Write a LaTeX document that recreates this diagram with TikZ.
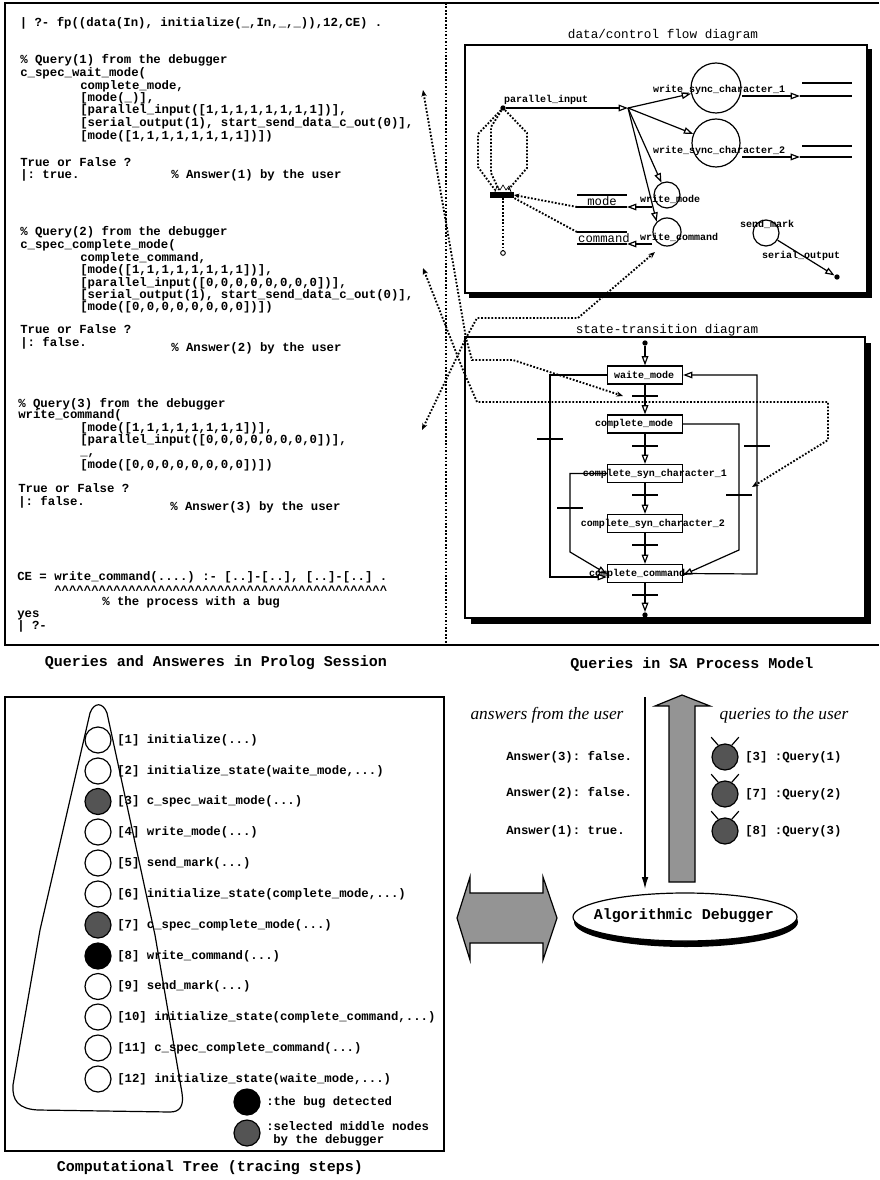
\documentclass[tikz,border=0pt]{standalone}
\usepackage{fontspec}
\setmainfont{Liberation Serif}
\setmonofont{Liberation Mono}
\usetikzlibrary{arrows.meta,shapes.geometric}
\newcommand\fcode{\ttfamily\bfseries\fontsize{9.25pt}{11pt}\selectfont}
\newcommand\fsmall{\ttfamily\bfseries\fontsize{7.5pt}{9pt}\selectfont}
\newcommand\fstore{\ttfamily\fontsize{9.2pt}{11pt}\selectfont}
\newcommand\ftitle{\ttfamily\fontsize{9.5pt}{11pt}\selectfont}
\newcommand\fcapt{\ttfamily\bfseries\fontsize{11.25pt}{13pt}\selectfont}
\newcommand\fital{\rmfamily\itshape\fontsize{13pt}{15pt}\selectfont}
\newcommand\cf{\textasciicircum\textasciicircum\textasciicircum\textasciicircum\textasciicircum}
\newcommand\cln[4]{\node[code] (#1) at (#2,#3) {#4};}
\definecolor{stip}{gray}{0.33}
\definecolor{arrg}{gray}{0.58}
\begin{document}
\begin{tikzpicture}[x=0.75pt,y=-0.75pt,
  code/.style={font=\fcode,inner sep=0pt,anchor=base west,yshift=-2.6pt},
  lab/.style={font=\fsmall,inner sep=0pt},
  storelab/.style={font=\fstore,inner sep=0pt},
  ttl/.style={font=\ftitle,inner sep=0pt},
  capt/.style={font=\fcapt,inner sep=0pt},
  frame/.style={line width=1.1pt},
  ln/.style={line width=0.9pt},
  flow/.style={line width=0.9pt,-{Triangle[open,length=7pt,width=5pt]}},
  dots/.style={line width=1.4pt,dash pattern=on 1.3pt off 1.3pt},
  dotsarr/.style={dots,{Stealth[length=5pt,width=4pt]}-{Stealth[length=5pt,width=4pt]}},
  dotsend/.style={dots,-{Stealth[length=4pt,width=3.5pt]}},
  proc/.style={circle,draw,line width=0.9pt,inner sep=0pt,fill=white},
  dot/.style={circle,fill,inner sep=0pt,minimum size=4pt},
  sbox/.style={draw,line width=0.9pt,fill=white,minimum width=56.25pt,minimum height=13.5pt,inner sep=0pt},
  tc/.style={circle,draw,line width=0.9pt,minimum size=19.5pt,inner sep=0pt,fill=white},
  barst/.style={line width=0.9pt},
]
\useasboundingbox (0,0) rectangle (879,1180);
\fill[white] (0,0) rectangle (879,1180);

% ---------------- top frame ----------------
\draw[frame] (879,3) -- (5,3) -- (5,645) -- (879,645);
\draw[dots] (446,3) -- (446,645);

% ---------------- Prolog session text ----------------
\cln{l0}{19.5}{23}{| ?- fp((data(In), initialize(\_,In,\_,\_)),12,CE) .}
\cln{q1a}{20}{60}{\% Query(1) from the debugger}
\cln{q1b}{20}{73}{c\_spec\_wait\_mode(}
\cln{q1c}{80}{86}{complete\_mode,}
\cln{q1d}{80}{98}{[mode(\_)],}
\cln{q1e}{80}{110}{[parallel\_input([1,1,1,1,1,1,1,1])],}
\cln{q1f}{80}{123}{[serial\_output(1), start\_send\_data\_c\_out(0)],}
\cln{q1g}{80}{136}{[mode([1,1,1,1,1,1,1,1])])}
\cln{q1h}{20}{163}{True or False ?}
\cln{q1i}{20}{175}{|: true.}
\cln{q1j}{171}{175}{\% Answer(1) by the user}

\cln{q2a}{20}{232}{\% Query(2) from the debugger}
\cln{q2b}{20}{245}{c\_spec\_complete\_mode(}
\cln{q2c}{80}{258}{complete\_command,}
\cln{q2d}{80}{270}{[mode([1,1,1,1,1,1,1,1])],}
\cln{q2e}{80}{283}{[parallel\_input([0,0,0,0,0,0,0,0])],}
\cln{q2f}{80}{295}{[serial\_output(1), start\_send\_data\_c\_out(0)],}
\cln{q2g}{80}{307}{[mode([0,0,0,0,0,0,0,0])])}
\cln{q2h}{20}{330}{True or False ?}
\cln{q2i}{20}{343}{|: false.}
\cln{q2j}{171}{348}{\% Answer(2) by the user}

\cln{q3a}{18}{404}{\% Query(3) from the debugger}
\cln{q3b}{18}{415}{write\_command(}
\cln{q3c}{80}{428}{[mode([1,1,1,1,1,1,1,1])],}
\cln{q3d}{80}{440}{[parallel\_input([0,0,0,0,0,0,0,0])],}
\cln{q3e}{80}{452}{\_,}
\cln{q3f}{80}{465}{[mode([0,0,0,0,0,0,0,0])])}
\cln{q3g}{18}{489}{True or False ?}
\cln{q3h}{18}{502}{|: false.}
\cln{q3i}{170}{507}{\% Answer(3) by the user}

\cln{ce1}{17}{577}{CE = write\_command(....) :- [..]-[..], [..]-[..] .}
\cln{ce2}{54}{591}{\cf\cf\cf\cf\cf\cf\cf\cf\cf}
\cln{ce3}{102}{602}{\% the process with a bug}
\cln{ce4}{17}{614}{yes}
\cln{ce5}{17}{626}{| ?-}

\node[capt] (cap1) at (216,663) {Queries and Answeres in Prolog Session};
\node[capt] (cap2) at (692,665) {Queries in SA Process Model};

% ---------------- data/control flow diagram ----------------
\fill (469,49) rectangle (872,298);
\draw[frame,fill=white] (465,45) rectangle (867,293);
\node[ttl] (dfdt) at (663,35) {data/control flow diagram};

\node[dot] (pin) at (503,108) {};
\node[lab] (pinl) at (546,100) {parallel\_input};
\coordinate (J) at (628,108);
\node[proc,minimum size=37.5pt] (c1) at (716,88) {};
\node[proc,minimum size=36pt] (c2) at (716,143) {};
\node[proc,minimum size=19.5pt] (wm) at (667,195) {};
\node[proc,minimum size=21pt] (wc) at (667,232) {};
\node[proc,minimum size=19.5pt] (smk) at (766,233) {};
\node[dot] (sout) at (837,277) {};

\draw[flow] (pin) -- (J);
\draw[flow] (J) -- (c1);
\draw[flow] (J) -- (c2);
\draw[flow] (J) -- (wm);
\draw[flow] (J) -- (wc.135);
\draw[flow] (smk) -- (sout);

\node[lab] (c1l) at (719,90) {write\_sync\_character\_1};
\node[lab] (c2l) at (719,151) {write\_sync\_character\_2};
\node[lab] (wml) at (670,199) {write\_mode};
\node[lab] (wcl) at (679,237) {write\_command};
\node[lab] (smkl) at (767,224) {send\_mark};
\node[lab] (soutl) at (801,256) {serial\_output};

% data stores
\coordinate (s1a) at (742,96); \coordinate (s1b) at (800,96); \coordinate (s1c) at (852,96);
\draw[ln] (802,83) -- (852,83);
\draw[flow] (s1a) -- (s1b);
\draw[ln] (s1b) -- (s1c);
\coordinate (s2a) at (742,157); \coordinate (s2b) at (800,157); \coordinate (s2c) at (852,157);
\draw[ln] (802,146) -- (852,146);
\draw[flow] (s2a) -- (s2b);
\draw[ln] (s2b) -- (s2c);

\node[storelab] (mode) at (602,201) {mode};
\draw[ln] (577,195) -- (627,195);
\draw[ln] (577,207) -- (627,207);
\coordinate (wmo) at (652,207); \coordinate (mdi) at (627,207);
\draw[flow] (wmo) -- (mdi);

\node[storelab] (cmd) at (604,238) {command};
\draw[ln] (577,232) -- (627,232);
\draw[ln] (577,244) -- (627,244);
\coordinate (wco) at (652,244); \coordinate (cdi) at (627,244);
\draw[flow] (wco) -- (cdi);

% stack symbol and dotted links
\fill (490,192) rectangle (514,198);
\draw[line width=0.5pt] (495,192) -- (497,186) -- (500,190) -- (503,185) -- (506,190) -- (509,186) -- (511,192);
\coordinate (stk) at (514,195);
\draw[dots] (pin) -- (478,134) -- (478,167) -- (495,190);
\draw[dots] (pin) -- (491,127) -- (491,173) -- (499,190);
\draw[dots] (pin) -- (527,133) -- (527,168) -- (508,190);
\node[circle,draw,line width=0.7pt,inner sep=0pt,minimum size=3.5pt] (pend) at (503,253) {};
\draw[dots] (503,198) -- (pend);
\coordinate (mdl) at (577,207);
\coordinate (cdl) at (577,232);
\draw[dotsend] (mdl) -- (stk);
\draw[dots] (cdl) -- (514,198);

% ---------------- state-transition diagram ----------------
\fill (471,343) rectangle (871,624);
\draw[frame,fill=white] (465,337) rectangle (865,618);
\node[ttl] (stt) at (667,330) {state-transition diagram};

\node[dot] (sst) at (645,343) {};
\node[dot] (sen) at (645,615) {};
\node[sbox] (s0) at (645,375) {};
\node[sbox] (s1) at (645,424) {};
\node[sbox] (s2) at (645,473.5) {};
\node[sbox] (s3) at (645,523.5) {};
\node[sbox] (s4) at (645,573.5) {};

\draw[flow] (sst) -- (s0);
\draw[flow] (s0) -- (s1);
\draw[flow] (s1) -- (s2);
\draw[flow] (s2) -- (s3);
\draw[flow] (s3) -- (s4);
\draw[flow] (s4) -- (sen);

\draw[flow] (s0.west) -- (550,375) -- (550,577) -- (607,577);
\draw[flow] (s2.west) -- (570,473.5) -- (570,552) -- (607,574);
\draw[flow] (s1.east) -- (739,424) -- (739,550) -- (683,575);
\draw[flow] (s4.east) -- (757,574) -- (757,375) -- (s0.east);

\foreach \bx/\by/\bn in {645/396/a,645/446/b,645/495/c,645/545/d,645/595/e,550/439/f,570/508/g,739/495/h,757/446/i}
  \draw[barst] (\bx-13,\by) -- (\bx+13,\by);

\node[lab] (s0l) at (644,375) {waite\_mode};
\node[lab] (s1l) at (634,424) {complete\_mode};
\node[lab] (s2l) at (655,474) {complete\_syn\_character\_1};
\node[lab] (s3l) at (653,524) {complete\_syn\_character\_2};
\node[lab] (s4l) at (637,574) {complete\_command};

% ---------------- dotted query links ----------------
\coordinate (a1) at (423,90);
\coordinate (a2) at (423,268);
\coordinate (a3) at (422,430);
\coordinate (t1) at (623,396);
\coordinate (t2) at (752,487);
\coordinate (t3) at (655,252);
\draw[dotsarr] (a1) -- (466,338) -- (472,360) -- (513,360) -- (t1);
\draw[dotsarr] (a2) -- (463,370) -- (477,402) -- (828,402) -- (828,440) -- (t2);
\draw[dotsarr] (a3) -- (466,338) -- (477,318) -- (578,318) -- (t3);

% ---------------- computational tree ----------------
\draw[frame] (5,697) rectangle (444,1151);
\draw[line width=0.9pt] (13,1085) -- (40,930) -- (90,713)
   .. controls (94,702) and (103,702) .. (107,713)
   -- (155,935) -- (182,1093) .. controls (184,1106) and (180,1112) .. (170,1112)
   -- (38,1110) .. controls (18,1109) and (12,1100) .. (13,1085) -- cycle;

\node[tc] (t1n) at (98,740) {};
\node[tc] (t2n) at (98,771) {};
\node[tc,fill=stip] (t3n) at (98,801.5) {};
\node[tc] (t4n) at (98,832) {};
\node[tc] (t5n) at (98,863) {};
\node[tc] (t6n) at (98,894) {};
\node[tc,fill=stip] (t7n) at (98,925) {};
\node[tc,fill=black] (t8n) at (98,956) {};
\node[tc] (t9n) at (98,986.5) {};
\node[tc] (t10n) at (98,1017) {};
\node[tc] (t11n) at (98,1048) {};
\node[tc] (t12n) at (98,1079) {};

\cln{t1l}{117}{740}{[1] initialize(...)}
\cln{t2l}{117}{771}{[2] initialize\_state(waite\_mode,...)}
\cln{t3l}{117}{801.5}{[3] c\_spec\_wait\_mode(...)}
\cln{t4l}{117}{832}{[4] write\_mode(...)}
\cln{t5l}{117}{863}{[5] send\_mark(...)}
\cln{t6l}{117}{894}{[6] initialize\_state(complete\_mode,...)}
\cln{t7l}{117}{925}{[7] c\_spec\_complete\_mode(...)}
\cln{t8l}{117}{956}{[8] write\_command(...)}
\cln{t9l}{117}{986.5}{[9] send\_mark(...)}
\cln{t10l}{117}{1017}{[10] initialize\_state(complete\_command,...)}
\cln{t11l}{117}{1048}{[11] c\_spec\_complete\_command(...)}
\cln{t12l}{117}{1079}{[12] initialize\_state(waite\_mode,...)}

\node[tc,fill=black] (lg1) at (247,1102) {};
\cln{lg1t}{266}{1102}{:the bug detected}
\node[tc,fill=stip] (lg2) at (247,1133) {};
\cln{lg2t}{266}{1127}{:selected middle nodes}
\cln{lg2u}{273}{1140}{by the debugger}

\node[capt] (cap3) at (210,1168) {Computational Tree (tracing steps)};

% ---------------- debugger side ----------------
\node[font=\fital,inner sep=0pt] (ansl) at (547,715) {answers from the user};
\node[font=\fital,inner sep=0pt] (qryl) at (784,715) {queries to the user};

\coordinate (dtop) at (645,697);
\coordinate (dbot) at (645,889);
\draw[line width=1pt,-{Latex[length=9pt,width=5pt]}] (dtop) -- (dbot);

\filldraw[fill=arrg,line width=0.9pt] (682,695) -- (710,706) -- (695,706) -- (695,882)
   -- (669,882) -- (669,706) -- (655,706) -- cycle;
\filldraw[fill=arrg,line width=0.9pt] (457,918) -- (470,877) -- (470,893) -- (543,893)
   -- (543,877) -- (557,918) -- (543,960) -- (543,943) -- (470,943) -- (470,960) -- cycle;

\cln{an3}{506}{757}{Answer(3): false.}
\cln{an2}{506}{793}{Answer(2): false.}
\cln{an1}{506}{831}{Answer(1): true.}

\foreach \qy/\qn/\qt in {757/1/{[3] :Query(1)},794/2/{[7] :Query(2)},831/3/{[8] :Query(3)}}{
  \node[tc,fill=stip] (qc\qn) at (725,\qy) {};
  \draw[line width=0.9pt] (qc\qn.120) -- ++(-7,-8);
  \draw[line width=0.9pt] (qc\qn.60) -- ++(7,-8);
  \node[code] (ql\qn) at (745,\qy) {\qt};
}

\fill (686,922) ellipse [x radius=112,y radius=25];
\filldraw[fill=white,line width=0.9pt] (685,917) ellipse [x radius=112,y radius=24];
\node[capt] (deb) at (684,916) {Algorithmic Debugger};

\end{tikzpicture}
\end{document}
